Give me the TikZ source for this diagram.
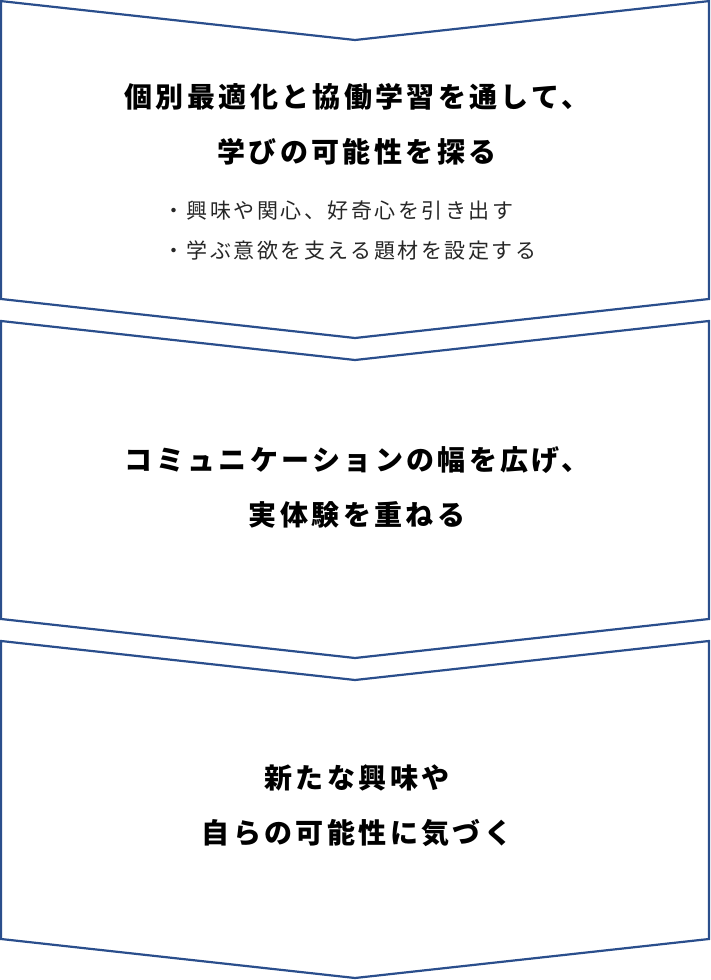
\documentclass[tikz,border=0pt]{standalone}
\usepackage{fontspec}
\newfontfamily\jptitle{Noto Sans CJK JP}[LetterSpace=12]
\newfontfamily\jpbody{Noto Sans CJK JP}[LetterSpace=12]
\definecolor{chevblue}{RGB}{42,78,140}
\tikzset{
  chevron/.style={draw=chevblue, line width=2.2pt, line join=miter, fill=white},
  titletext/.style={align=center, inner sep=0pt, text=black, font=\jptitle\bfseries\fontsize{28pt}{55pt}\selectfont},
  bullettext/.style={align=left, inner sep=0pt, text=black!85, font=\jpbody\fontsize{21pt}{40pt}\selectfont}
}
\begin{document}
\begin{tikzpicture}[x=1pt,y=-1pt]
\useasboundingbox (0,0) rectangle (710,980);
% chevrons
\draw[chevron] (1.1,1.1) -- (355,40) -- (708.9,1.1) -- (708.9,299) -- (355,338) -- (1.1,299) -- cycle;
\draw[chevron] (1.1,321) -- (355,360) -- (708.9,321) -- (708.9,619) -- (355,658) -- (1.1,619) -- cycle;
\draw[chevron] (1.1,641) -- (355,680) -- (708.9,641) -- (708.9,939) -- (355,978) -- (1.1,939) -- cycle;
% texts
\node[titletext] (t1) at (357,124.5) {個別最適化と協働学習を通して、\\学びの可能性を探る};
\node[bullettext, anchor=west] (b1) at (163,231) {・興味や関心、好奇心を引き出す\\・学ぶ意欲を支える題材を設定する};
\node[titletext] (t2) at (357,487.5) {コミュニケーションの幅を広げ、\\実体験を重ねる};
\node[titletext] (t3) at (357,805.5) {新たな興味や\\自らの可能性に気づく};
\end{tikzpicture}
\end{document}
